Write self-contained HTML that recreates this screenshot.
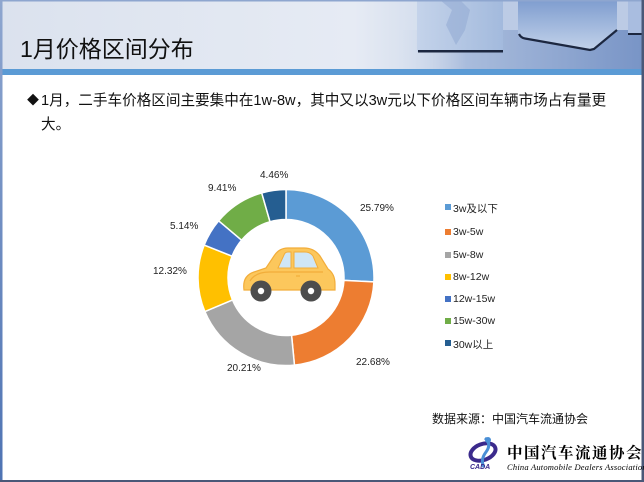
<!DOCTYPE html>
<html><head><meta charset="utf-8">
<style>
html,body{margin:0;padding:0;background:#fff;}
body{width:644px;height:482px;position:relative;overflow:hidden;font-family:"Liberation Sans","Noto Sans CJK SC",sans-serif;}
.abs{position:absolute;white-space:nowrap;}
</style></head><body>
<svg width="644" height="482" viewBox="0 0 644 482" style="position:absolute;left:0;top:0" xmlns="http://www.w3.org/2000/svg">
<defs>
<linearGradient id="hbg" x1="0" y1="0" x2="1" y2="0">
<stop offset="0" stop-color="#dbe2ee"/>
<stop offset="0.55" stop-color="#e6ebf4"/>
<stop offset="0.65" stop-color="#d6dfee"/>
<stop offset="1" stop-color="#b4c6e3"/>
</linearGradient>
<linearGradient id="floor" x1="0" y1="0" x2="1" y2="0">
<stop offset="0" stop-color="#dfe6f1" stop-opacity="0"/>
<stop offset="0.3" stop-color="#a9bcdc"/>
<stop offset="1" stop-color="#7894c6"/>
</linearGradient>
<linearGradient id="c1" x1="0" y1="0" x2="1" y2="0">
<stop offset="0" stop-color="#c4d3ea"/>
<stop offset="1" stop-color="#a3badd"/>
</linearGradient>
<linearGradient id="c2" x1="0" y1="0" x2="0" y2="1">
<stop offset="0" stop-color="#7f9dcf"/>
<stop offset="1" stop-color="#c2d2ea"/>
</linearGradient>
<linearGradient id="lb" x1="0" y1="0" x2="0" y2="1">
<stop offset="0" stop-color="#8ea6cf"/>
<stop offset="1" stop-color="#4e73b3"/>
</linearGradient>
</defs>
<!-- header -->
<rect x="0" y="0" width="644" height="70" fill="url(#hbg)"/>
<rect x="500" y="0" width="144" height="40" fill="#bccbe5"/>
<rect x="390" y="30" width="254" height="40" fill="url(#floor)"/>
<rect x="417" y="0" width="86" height="52" fill="url(#c1)"/>
<path d="M440 0 L452 10 L446 25 L456 45 L465 30 L470 10 L460 0 Z" fill="#94acd3" opacity="0.6"/>
<rect x="418" y="50" width="85" height="2.5" fill="#1c2740"/>
<path d="M518 0 L617 0 L617 30 L592 50 L522 38 L518 33 Z" fill="url(#c2)"/>
<path d="M519 34 Q521 38 525 38.5 L590 50 L594 49 L617 30" fill="none" stroke="#1c2740" stroke-width="2.2"/>
<rect x="628" y="0" width="16" height="34" fill="#a9bde0"/>
<rect x="628" y="33" width="16" height="2" fill="#1c2740"/>
<rect x="0" y="69" width="644" height="6" fill="#5b9bd5"/>
<!-- borders -->
<rect x="0" y="0" width="644" height="1.5" fill="#8ea6cf"/>
<rect x="0" y="0" width="2.5" height="482" fill="url(#lb)"/>
<rect x="641.5" y="0" width="2.5" height="482" fill="#4a5878"/>
<rect x="0" y="480" width="644" height="2" fill="#4a5878"/>
<!-- donut -->
<g stroke="#fff" stroke-width="1.5" stroke-linejoin="round">
<path d="M286 189.5 A88 88 0 0 1 373.89 281.86 L343.93 280.37 A58 58 0 0 0 286 219.5 Z" fill="#5b9bd5"/>
<path d="M373.89 281.86 A88 88 0 0 1 294.45 365.09 L291.57 335.23 A58 58 0 0 0 343.93 280.37 Z" fill="#ed7d31"/>
<path d="M294.45 365.09 A88 88 0 0 1 204.85 311.53 L232.51 299.93 A58 58 0 0 0 291.57 335.23 Z" fill="#a5a5a5"/>
<path d="M204.85 311.53 A88 88 0 0 1 204.18 245.11 L232.07 256.15 A58 58 0 0 0 232.51 299.93 Z" fill="#ffc000"/>
<path d="M204.18 245.11 A88 88 0 0 1 218.69 220.82 L241.63 240.14 A58 58 0 0 0 232.07 256.15 Z" fill="#4472c4"/>
<path d="M218.69 220.82 A88 88 0 0 1 261.72 192.92 L270.00 221.75 A58 58 0 0 0 241.63 240.14 Z" fill="#70ad47"/>
<path d="M261.72 192.92 A88 88 0 0 1 286 189.5 L286 219.5 A58 58 0 0 0 270.00 221.75 Z" fill="#255e91"/>
</g>
<!-- car -->
<g>
<path d="M244 290 Q242 276 254 272 L266 268 L274 256 Q279 248 288 248 L304 248 Q314 248 320 256 L328 269 Q335 274 335 284 L335 290 Z" fill="#fcc75c" stroke="#f2ad3a" stroke-width="1.2"/>
<path d="M278 268 L284 255 Q285 252 288 252 L291 252 L291 268 Z" fill="#cfe6f6" stroke="#f2ad3a" stroke-width="1"/>
<path d="M294 252 L305 252 Q310 252 313 256 L318 268 L294 268 Z" fill="#cfe6f6" stroke="#f2ad3a" stroke-width="1"/>
<path d="M250 281 Q255 272 270 272 L323 272" fill="none" stroke="#f2ad3a" stroke-width="1.2"/>
<line x1="296" y1="276" x2="300" y2="276" stroke="#f2ad3a" stroke-width="1.2"/>
<circle cx="261" cy="291" r="10.5" fill="#4d4d4d"/>
<circle cx="261" cy="291" r="3.2" fill="#fff"/>
<circle cx="311" cy="291" r="10.5" fill="#4d4d4d"/>
<circle cx="311" cy="291" r="3.2" fill="#fff"/>
</g>
<!-- legend squares -->
<rect x="445" y="204" width="6" height="6" fill="#5b9bd5"/>
<rect x="445" y="229" width="6" height="6" fill="#ed7d31"/>
<rect x="445" y="252" width="6" height="6" fill="#a5a5a5"/>
<rect x="445" y="274" width="6" height="6" fill="#ffc000"/>
<rect x="445" y="296" width="6" height="6" fill="#4472c4"/>
<rect x="445" y="318" width="6" height="6" fill="#70ad47"/>
<rect x="445" y="340" width="6" height="6" fill="#255e91"/>
<!-- logo emblem -->
<ellipse cx="483" cy="452" rx="13" ry="8" fill="none" stroke="#3b2a8c" stroke-width="4" transform="rotate(-20 483 452)"/>
<path d="M485 438 Q492 444 486 452 Q480 460 484 467" fill="none" stroke="#4a8fd6" stroke-width="3"/>
<circle cx="488" cy="440" r="3" fill="#4a8fd6"/>
</svg>

<div class="abs" style="left:20px;top:30px;font-size:23px;color:#111;">1月价格区间分布</div>

<div class="abs" style="left:27px;top:91px;font-size:12px;color:#111;">◆</div>
<div class="abs" style="left:41px;top:89px;font-size:14.6px;color:#111;">1月，二手车价格区间主要集中在1w-8w，其中又以3w元以下价格区间车辆市场占有量更</div>
<div class="abs" style="left:41px;top:113px;font-size:14.6px;color:#111;">大。</div>

<div class="abs" style="left:360px;top:203px;font-size:10px;color:#222;">25.79%</div>
<div class="abs" style="left:356px;top:357px;font-size:10px;color:#222;">22.68%</div>
<div class="abs" style="left:227px;top:363px;font-size:10px;color:#222;">20.21%</div>
<div class="abs" style="left:153px;top:266px;font-size:10px;color:#222;">12.32%</div>
<div class="abs" style="left:170px;top:221px;font-size:10px;color:#222;">5.14%</div>
<div class="abs" style="left:208px;top:183px;font-size:10px;color:#222;">9.41%</div>
<div class="abs" style="left:260px;top:170px;font-size:10px;color:#222;">4.46%</div>

<div class="abs" style="left:453px;top:201px;font-size:10.5px;color:#222;">3w及以下</div>
<div class="abs" style="left:453px;top:226px;font-size:10.5px;color:#222;">3w-5w</div>
<div class="abs" style="left:453px;top:249px;font-size:10.5px;color:#222;">5w-8w</div>
<div class="abs" style="left:453px;top:271px;font-size:10.5px;color:#222;">8w-12w</div>
<div class="abs" style="left:453px;top:293px;font-size:10.5px;color:#222;">12w-15w</div>
<div class="abs" style="left:453px;top:315px;font-size:10.5px;color:#222;">15w-30w</div>
<div class="abs" style="left:453px;top:337px;font-size:10.5px;color:#222;">30w以上</div>

<div class="abs" style="left:432px;top:410px;font-size:12px;color:#111;">数据来源：中国汽车流通协会</div>

<div class="abs" style="left:470px;top:464px;font-size:7px;font-weight:bold;font-style:italic;color:#3b2a8c;">CADA</div>
<div class="abs" style="left:507px;top:441px;font-size:15.5px;font-weight:bold;color:#000;font-family:'Noto Serif CJK SC','Noto Sans CJK SC',serif;letter-spacing:1.5px;">中国汽车流通协会</div>
<div class="abs" style="left:507px;top:462px;font-size:8.5px;font-style:italic;color:#000;font-family:'Liberation Serif',serif;letter-spacing:0.2px;">China Automobile Dealers Association</div>
</body></html>
